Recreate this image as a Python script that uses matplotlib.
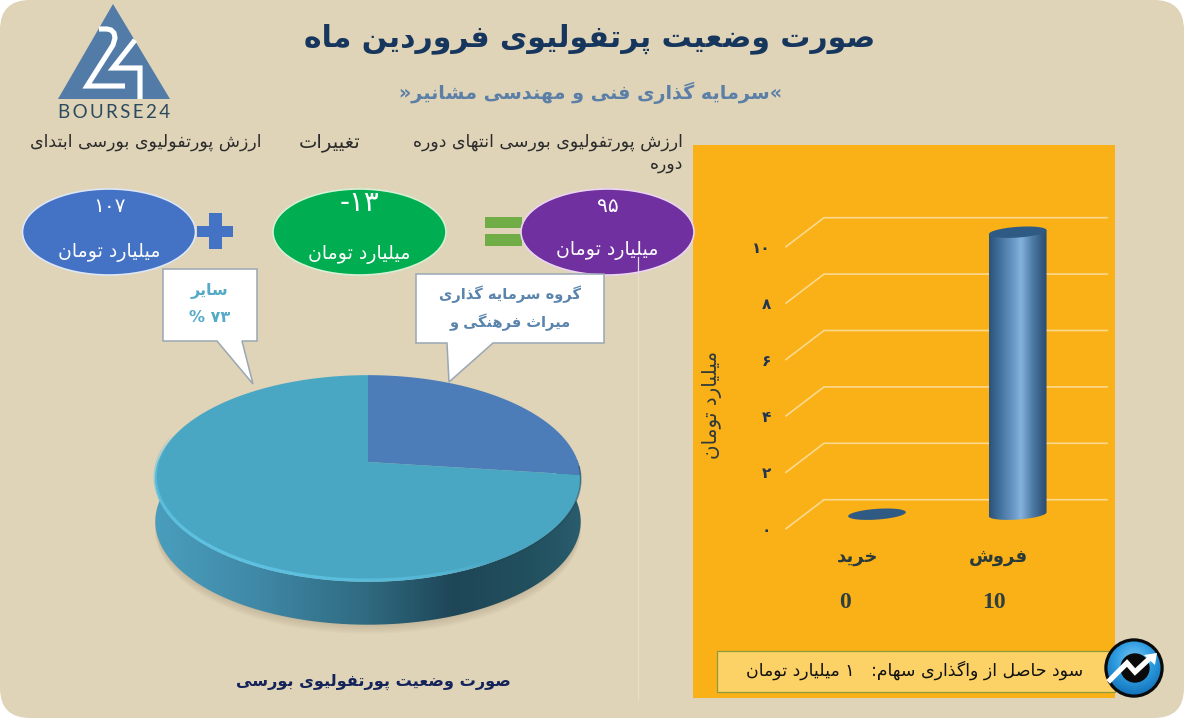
import re

import matplotlib
import numpy as np

matplotlib.use("Agg")
import matplotlib.pyplot as plt
from matplotlib.collections import LineCollection
from matplotlib.colors import LinearSegmentedColormap
from matplotlib.patches import Circle, Ellipse, FancyBboxPatch, Polygon, Rectangle


WIDTH, HEIGHT = 1184, 718

BAR_CATEGORIES = ["خرید", "فروش"]
BAR_VALUES = [0, 10]
Y_TICKS = [0, 2, 4, 6, 8, 10]
Y_TICK_LABELS = ["۰", "۲", "۴", "۶", "۸", "۱۰"]

PIE_SHARES = [27, 73]
PIE_COLORS = ["#4C7DB9", "#49A7C4"]
PIE_GROUP_LINES = ["گروه سرمایه گذاری", "میراث فرهنگی و"]
PIE_OTHER_LINES = ["سایر", "۷۳ %"]

PORTFOLIO_VALUES = ["۱۰۷", "-۱۳", "۹۵"]
PORTFOLIO_COLORS = ["#4472C4", "#00AD50", "#7030A0"]
PORTFOLIO_EDGES = ["#DCE6F5", "#D5F0D5", "#EBD5F0"]

TITLE = "صورت وضعیت پرتفولیوی فروردین ماه"
SUBTITLE = "سرمایه گذاری فنی و مهندسی مشانیر"
UNIT = "میلیارد تومان"
PROFIT_NOTE = "سود حاصل از واگذاری سهام:   ۱ میلیارد تومان"
PIE_TITLE = "صورت وضعیت پورتفولیوی بورسی"

FORMS = {
    "ا": "ﺍﺎ", "آ": "ﺁﺂ", "ب": "ﺏﺐﺑﺒ", "پ": "ﭖﭗﭘﭙ", "ت": "ﺕﺖﺗﺘ", "ث": "ﺙﺚﺛﺜ",
    "ج": "ﺝﺞﺟﺠ", "چ": "ﭺﭻﭼﭽ", "ح": "ﺡﺢﺣﺤ", "خ": "ﺥﺦﺧﺨ", "د": "ﺩﺪ", "ذ": "ﺫﺬ",
    "ر": "ﺭﺮ", "ز": "ﺯﺰ", "ژ": "ﮊﮋ", "س": "ﺱﺲﺳﺴ", "ش": "ﺵﺶﺷﺸ", "ص": "ﺹﺺﺻﺼ",
    "ض": "ﺽﺾﺿﻀ", "ط": "ﻁﻂﻃﻄ", "ظ": "ﻅﻆﻇﻈ", "ع": "ﻉﻊﻋﻌ", "غ": "ﻍﻎﻏﻐ", "ف": "ﻑﻒﻓﻔ",
    "ق": "ﻕﻖﻗﻘ", "ک": "ﮎﮏﮐﮑ", "گ": "ﮒﮓﮔﮕ", "ل": "ﻝﻞﻟﻠ", "م": "ﻡﻢﻣﻤ", "ن": "ﻥﻦﻧﻨ",
    "و": "ﻭﻮ", "ه": "ﻩﻪﻫﻬ", "ی": "ﯼﯽﯾﯿ",
}


def fa(text):
    # matplotlib has no arabic shaping or bidi, so do both by hand
    shaped = []
    for i, char in enumerate(text):
        forms = FORMS.get(char)
        if forms is None:
            shaped.append(char)
            continue
        prev_char = text[i - 1] if i > 0 else ""
        next_char = text[i + 1] if i + 1 < len(text) else ""
        joins_prev = prev_char in FORMS and len(FORMS[prev_char]) == 4
        joins_next = next_char in FORMS and len(forms) == 4
        if joins_prev and joins_next:
            shaped.append(forms[3])
        elif joins_next:
            shaped.append(forms[2])
        elif joins_prev:
            shaped.append(forms[1])
        else:
            shaped.append(forms[0])
    visual = "".join(shaped)[::-1]
    return re.sub(r"[۰-۹0-9]+", lambda m: m.group()[::-1], visual)


def pie_xy(angles, drop=0.0):
    # circle seen in perspective, that is why the centre is above the middle
    ux, uy = np.sin(angles), np.cos(angles)
    w = 1 + 0.159 * uy
    return 368 + 210 * ux / w, (462 - 27.2 * uy) / w + drop


def draw_pie(ax):
    outline = np.linspace(0, 2 * np.pi, 300)
    for k in range(6):
        x, y = pie_xy(outline, 44 + k * 1.6)
        ax.add_patch(Polygon(np.c_[x, y], color="#5A4A30", alpha=0.03, lw=0, zorder=2))

    front = np.radians(np.linspace(70, 290, 200))
    x_top, y_top = pie_xy(front)
    x_low, y_low = pie_xy(front, 43)
    wall = Polygon(
        np.r_[np.c_[x_top, y_top], np.c_[x_low, y_low][::-1]], closed=True, lw=0,
        transform=ax.transData, facecolor="none", zorder=3,
    )
    ax.add_patch(wall)
    wall_cmap = LinearSegmentedColormap.from_list(
        "wall",
        [(0, "#4A9FBE"), (0.25, "#3F88A6"), (0.5, "#2F6A80"), (0.7, "#1E4657"),
         (0.88, "#22505F"), (1, "#2A5D6E")],
    )
    image = ax.imshow(
        np.linspace(0, 1, 256)[None, :], cmap=wall_cmap, aspect="auto",
        extent=(150, 585, 640, 460), zorder=3,
    )
    image.set_clip_path(wall)

    start = 0.0
    total = sum(PIE_SHARES)
    for share, color in zip(PIE_SHARES, PIE_COLORS):
        end = start + 2 * np.pi * share / total
        x, y = pie_xy(np.linspace(start, end, 200))
        ax.add_patch(Polygon(np.r_[[[368, 462]], np.c_[x, y]], color=color, lw=0, zorder=4))
        start = end

    # bevel along the front rim, strongest on the lower left
    rim = np.radians(np.linspace(150, 285, 200))
    x, y = pie_xy(rim)
    points = np.c_[x, y - 1.5]
    segments = np.stack([points[:-1], points[1:]], axis=1)
    fade = np.sin(np.pi * np.linspace(0, 1, len(segments))) ** 0.6
    colors = np.zeros((len(segments), 4))
    colors[:, :3] = matplotlib.colors.to_rgb("#62C6E6")
    colors[:, 3] = fade * 0.9
    ax.add_collection(LineCollection(segments, colors=colors, linewidths=2.4, zorder=5))
    dark = np.radians(np.linspace(92, 150, 80))
    x, y = pie_xy(dark)
    ax.plot(x, y + 1, color="#1E4A5A", lw=1.2, alpha=0.5, zorder=5)


def draw_callout(ax, box, tail, lines, color, size):
    left, top, right, bottom = box
    outline = [(left, top), (right, top), (right, bottom), (tail[2], bottom), (tail[1], tail[3]),
               (tail[0], bottom), (left, bottom)]
    ax.add_patch(Polygon(outline, closed=True, facecolor="white", edgecolor="#9AA7B3", lw=1.1, zorder=6))
    for text, y in lines:
        ax.text((left + right) / 2, y, text, color=color, fontsize=size, fontweight="bold",
                ha="center", va="center", zorder=7)


def draw_logo(ax):
    ax.add_patch(Polygon([(113, 4), (58, 99), (170, 99)], color="#527BA8", lw=0, zorder=2))
    ax.plot([99, 107, 111, 114, 115, 113, 87, 125], [29, 29, 30, 33, 38, 45, 86, 86], color="white",
            lw=3.7, solid_joinstyle="miter", solid_capstyle="butt", zorder=3)
    ax.plot([135, 113, 140, 140], [40, 68, 68, 99], color="white", lw=3.7,
            solid_joinstyle="miter", solid_capstyle="butt", zorder=3)
    ax.text(114.5, 113, "\u2009".join("BOURSE24"), family="Lato", fontsize=13.5, color="#2C4A5E",
            ha="center", va="center", zorder=3)


def draw_icon(ax):
    cx, cy, radius = 1134, 668, 29
    ax.add_patch(Circle((cx, cy), radius, color="#0A0A0A", zorder=8))
    yy, xx = np.mgrid[-1:1:100j, -1:1:100j]
    glow = np.hypot(xx, yy + 0.3)
    cmap = LinearSegmentedColormap.from_list("icon", ["#7CC8F2", "#2E9CE0", "#0F6CB4"])
    disc = ax.imshow(glow, cmap=cmap, vmin=0, vmax=1.4, aspect="auto", zorder=8.5,
                     extent=(cx - 27, cx + 27, cy + 27, cy - 27))
    clip = Circle((cx, cy), 26.5, transform=ax.transData, facecolor="none", lw=0)
    ax.add_patch(clip)
    disc.set_clip_path(clip)
    ax.add_patch(Circle((cx + 1, cy), 14, color="#0A0A0A", zorder=9))
    ax.plot([1110, 1127, 1135, 1149], [680, 663, 672, 659], color="white", lw=3.8,
            solid_joinstyle="miter", zorder=10)
    ax.add_patch(Polygon([(1157, 653), (1144, 655), (1155, 665)], color="white", lw=0, zorder=10))


def draw_cylinder(ax, x, base, value, half_width, cmap):
    ry = 0.19
    tilt = 0.07
    t = np.linspace(np.pi, 2 * np.pi, 80)
    ex = x + half_width * np.cos(t)
    ey = base + ry * np.sin(t) + tilt * np.cos(t)
    top = base + value
    if value > 0:
        body = Polygon(
            np.r_[np.c_[ex, ey], [[x + half_width, top + tilt], [x - half_width, top - tilt]]],
            closed=True, transform=ax.transData, facecolor="none", lw=0, zorder=3,
        )
        ax.add_patch(body)
        image = ax.imshow(
            np.linspace(0, 1, 256)[None, :], cmap=cmap, aspect="auto", zorder=3,
            extent=(x - half_width, x + half_width, base - 1, top + 1),
        )
        image.set_clip_path(body)
    t = np.linspace(0, 2 * np.pi, 120)
    cap_y = top + ry * np.sin(t) + tilt * np.cos(t)
    ax.add_patch(Polygon(np.c_[x + half_width * np.cos(t), cap_y], color="#2F5A84", lw=0, zorder=4))


def draw_bar_chart(fig):
    bottom_px, top_px = 528.7, 217.7
    left_px, right_px = 786, 1107
    unit_y = 28.2
    unit_x = 140.7
    ax = fig.add_axes(
        [left_px / WIDTH, 1 - bottom_px / HEIGHT, (right_px - left_px) / WIDTH, (bottom_px - top_px) / HEIGHT],
        zorder=3,
    )
    ax.patch.set_alpha(0)
    xlim = ((left_px - 858) / unit_x, (right_px - 858) / unit_x)
    ylim = (0, (bottom_px - top_px) / unit_y)
    depth_x, depth_y = 38 / unit_x, ylim[1] - Y_TICKS[-1]

    for tick in Y_TICKS:
        ax.plot(
            [xlim[0], xlim[0] + depth_x, xlim[1]],
            [tick, tick + depth_y, tick + depth_y],
            color="#FBD98E", lw=1.2, zorder=1, clip_on=False,
        )

    cmap = LinearSegmentedColormap.from_list(
        "cyl",
        [(0, "#2C5278"), (0.18, "#41709C"), (0.45, "#6F9DCB"), (0.55, "#86B2DE"),
         (0.75, "#4D7CA6"), (0.92, "#34597E"), (1, "#2B4E70")],
    )
    for i, value in enumerate(BAR_VALUES):
        draw_cylinder(ax, i + depth_x / 2, depth_y / 2, value, 0.205, cmap)

    ax.set_xlim(xlim)
    ax.set_ylim(ylim)
    for spine in ax.spines.values():
        spine.set_visible(False)
    ax.set_yticks(Y_TICKS, Y_TICK_LABELS, fontweight="bold", fontsize=11, color="#1F3550")
    ax.set_xticks(range(len(BAR_CATEGORIES)), [fa(c) for c in BAR_CATEGORIES], fontsize=13,
                  fontweight="bold", color="#2A3A3A")
    ax.tick_params(axis="y", length=0, pad=11)
    ax.tick_params(axis="x", length=0, pad=14)


def main():
    plt.rcParams["font.family"] = ["DejaVu Sans"]
    fig = plt.figure(figsize=(WIDTH / 100, HEIGHT / 100), dpi=100, facecolor="white")
    ax = fig.add_axes([0, 0, 1, 1], zorder=1)
    ax.set_axis_off()

    ax.add_patch(FancyBboxPatch((0, 0), WIDTH, HEIGHT, boxstyle="round,pad=0,rounding_size=30",
                                facecolor="#DFD3B8", edgecolor="none", zorder=0))
    ax.plot([638, 638], [258, 700], color="#E8DEC8", lw=0.9, zorder=1)
    ax.add_patch(Rectangle((693, 145), 422, 553, color="#FAB117", lw=0, zorder=1))

    draw_logo(ax)
    ax.text(590, 39, fa(TITLE), fontsize=21.5, fontweight="bold", color="#17365D", ha="center", va="center")
    ax.text(591, 93, "»" + fa(SUBTITLE) + "«", fontsize=13.8, fontweight="bold", color="#5B7FA6",
            ha="center", va="center")

    header_style = dict(color="#2B2B2B", va="center")
    ax.text(261, 142, fa("ارزش پورتفولیوی بورسی ابتدای"), ha="right", fontsize=12.5, **header_style)
    ax.text(360, 142, fa("تغییرات"), ha="right", fontsize=14, **header_style)
    ax.text(683, 142, fa("ارزش پورتفولیوی بورسی انتهای دوره"), ha="right", fontsize=12.5, **header_style)
    ax.text(683, 164, fa("دوره"), ha="right", fontsize=12.5, **header_style)

    centers = [109, 359.5, 607.5]
    value_sizes = [14.5, 20, 14.5]
    value_ys = [206, 203, 207]
    unit_ys = [253, 254, 250]
    for i, cx in enumerate(centers):
        ax.add_patch(Ellipse((cx, 232), 173, 86, facecolor=PORTFOLIO_COLORS[i],
                             edgecolor=PORTFOLIO_EDGES[i], lw=1.2, zorder=3))
        ax.text(cx, value_ys[i], PORTFOLIO_VALUES[i], color="white", fontsize=value_sizes[i],
                ha="center", va="center", zorder=4)
        ax.text(cx, unit_ys[i], fa(UNIT), color="white", fontsize=13.6, ha="center", va="center", zorder=4)
    ax.plot([638, 638], [257, 275], color="#E6D8EC", lw=0.9, zorder=4)

    ax.add_patch(Rectangle((197, 226), 36, 11, color="#4472C4", lw=0, zorder=2))
    ax.add_patch(Rectangle((209, 213), 13, 36, color="#4472C4", lw=0, zorder=2))
    ax.add_patch(Rectangle((485, 217), 37, 11, color="#70AD47", lw=0, zorder=2))
    ax.add_patch(Rectangle((485, 234), 37, 12, color="#70AD47", lw=0, zorder=2))

    draw_pie(ax)
    draw_callout(ax, (416, 274, 604, 343), (447, 449, 493, 382),
                 [(fa(PIE_GROUP_LINES[0]), 294), (fa(PIE_GROUP_LINES[1]), 322)], "#5B84AD", 10.5)
    draw_callout(ax, (163, 269, 257, 341), (217, 253, 242, 384),
                 [(fa(PIE_OTHER_LINES[0]), 291), (fa(PIE_OTHER_LINES[1]), 317)], "#55AAC6", 11.5)
    ax.text(373, 682, fa(PIE_TITLE), fontsize=11.6, fontweight="bold", color="#14245A", ha="center", va="center")

    for x, value in zip([845, 994], BAR_VALUES):
        ax.text(x, 603, str(value), family="Liberation Serif", fontsize=17, fontweight="bold",
                color="#2F3F3F", ha="center", va="center", zorder=4)
    ax.text(712, 405, fa(UNIT), rotation=90, fontsize=14.4, color="#2F3A3A", ha="center", va="center", zorder=4)

    ax.add_patch(Rectangle((717, 651), 398, 41, facecolor="#FCD266", edgecolor="#8F9A3C", lw=0.9, zorder=2))
    ax.text(1083, 670, fa(PROFIT_NOTE), fontsize=12.5, color="#111111", ha="right", va="center", zorder=3)
    draw_icon(ax)

    ax.set_xlim(0, WIDTH)
    ax.set_ylim(HEIGHT, 0)

    draw_bar_chart(fig)
    fig.savefig("out.png", dpi=100)


if __name__ == "__main__":
    main()
